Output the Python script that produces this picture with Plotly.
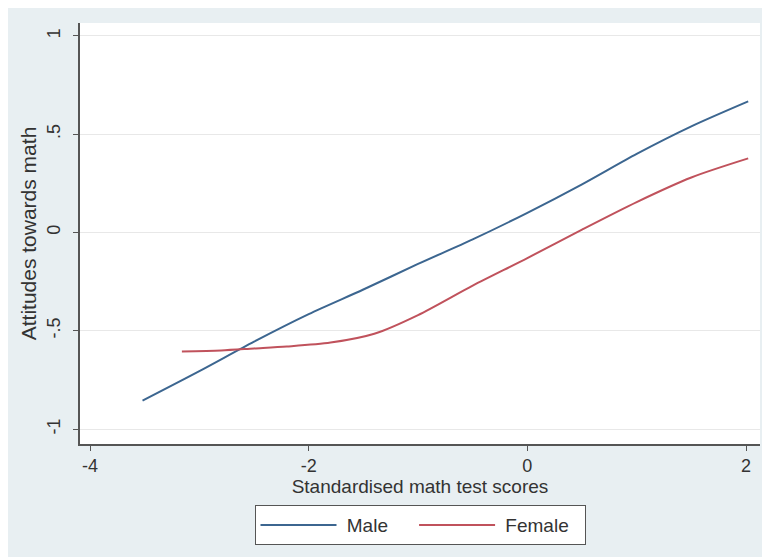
import plotly.graph_objects as go

# Data
male_x = [-3.52, -3.0, -2.5, -2.0, -1.5, -1.0, -0.5, 0.0, 0.5, 1.0, 1.5, 2.02]
male_y = [-0.855, -0.705, -0.555, -0.415, -0.29, -0.16, -0.035, 0.10, 0.245, 0.40, 0.54, 0.667]

female_x = [-3.16, -2.8, -2.5, -2.2, -1.8, -1.4, -1.0, -0.5, 0.0, 0.5, 1.0, 1.5, 2.02]
female_y = [-0.605, -0.60, -0.59, -0.58, -0.56, -0.515, -0.42, -0.27, -0.13, 0.015, 0.155, 0.28, 0.377]

x_ticks = [-4, -2, 0, 2]
x_tick_labels = ["-4", "-2", "0", "2"]
y_ticks = [-1, -0.5, 0, 0.5, 1]
y_tick_labels = ["-1", "-.5", "0", ".5", "1"]

FONT = "Liberation Sans, Arial, sans-serif"
TXT = "#333333"
NB = "\u00a0"

fig = go.Figure()
fig.add_trace(go.Scatter(x=male_x, y=male_y, mode="lines", name=NB + "Male" + NB * 4,
                         line=dict(color="#3c6690", width=2, shape="spline", smoothing=0.8)))
fig.add_trace(go.Scatter(x=female_x, y=female_y, mode="lines", name=NB + "Female" + NB * 2,
                         line=dict(color="#c0525c", width=2, shape="spline", smoothing=0.8)))

# The page body adds an 8px offset, so plot area (80..760, 23..444 on page)
# becomes 72..752, 15..436 in figure coordinates.
fig.update_layout(
    width=770, height=557,
    margin=dict(l=72, r=18, t=15, b=121),
    paper_bgcolor="#e8eff2",
    plot_bgcolor="white",
    font=dict(family=FONT, color=TXT, size=18),
    showlegend=True,
    legend=dict(orientation="h", x=0.5, xanchor="center", y=-0.145, yanchor="top",
                bgcolor="white", bordercolor="#555555", borderwidth=1,
                font=dict(size=19, color=TXT), itemwidth=76,
                tracegroupgap=0),
)

fig.update_xaxes(
    automargin=False,
    range=[-4.092, 2.128], tickvals=x_ticks, ticktext=x_tick_labels,
    showgrid=False, zeroline=False,
    showline=True, linecolor="#555555", linewidth=1.5,
    ticks="outside", ticklen=5, tickcolor="#555555",
    tickfont=dict(size=18, color=TXT),
    title=dict(text="Standardised math test scores", font=dict(size=19, color=TXT), standoff=0),
)
fig.update_yaxes(
    automargin=False,
    range=[-1.076, 1.066], tickvals=y_ticks, ticktext=y_tick_labels,
    showgrid=True, gridcolor="#e8e8e8", gridwidth=1, zeroline=False,
    showline=True, linecolor="#555555", linewidth=1.5,
    ticks="outside", ticklen=5, tickcolor="#555555",
    tickangle=-90, ticklabelstandoff=6,
    tickfont=dict(size=18, color=TXT),
    title=dict(text="Attitudes towards math", font=dict(size=21, color=TXT), standoff=2),
)

fig.write_html("out.html")
